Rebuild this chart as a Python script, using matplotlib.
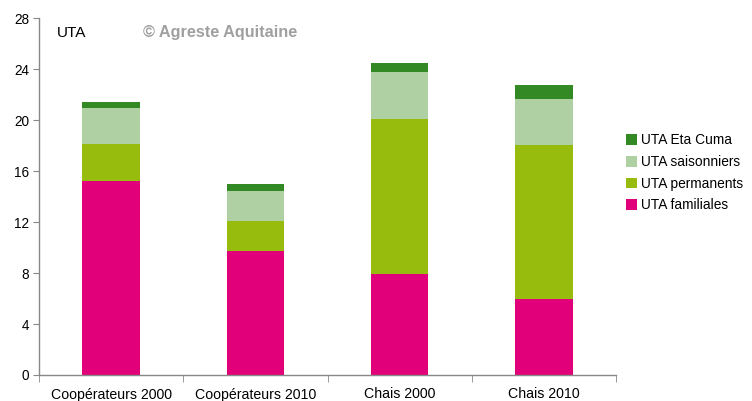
import matplotlib
matplotlib.use("Agg")
import matplotlib.pyplot as plt
from matplotlib.patches import Patch
import numpy as np

plt.rcParams['font.family'] = ['Liberation Sans', 'DejaVu Sans']

categories = ["Coopérateurs 2000", "Coopérateurs 2010", "Chais 2000", "Chais 2010"]
series_names = ["UTA familiales", "UTA permanents", "UTA saisonniers", "UTA Eta Cuma"]
familiales = [15.2, 9.7, 7.9, 6.0]
permanents = [2.9, 2.35, 12.15, 12.05]
saisonniers = [2.85, 2.4, 3.75, 3.6]
eta_cuma = [0.45, 0.5, 0.7, 1.1]
colors = ["#E2007A", "#98BC0E", "#AED0A2", "#338A25"]
yticks = [0, 4, 8, 12, 16, 20, 24, 28]

fig = plt.figure(figsize=(7.52, 4.01), dpi=100)
ax = fig.add_axes([39/752, 1-375/401, (616-39)/752, (375-18)/401])

x = np.arange(len(categories))
bottom = np.zeros(len(categories))
for vals, c in zip([familiales, permanents, saisonniers, eta_cuma], colors):
    ax.bar(x, vals, width=0.4, bottom=bottom, color=c, linewidth=0)
    bottom += np.array(vals)

ax.set_xlim(-0.5, len(categories) - 0.5)
ax.set_ylim(0, 28)
ax.set_yticks(yticks)
ax.set_yticklabels([str(t) for t in yticks], fontsize=9.8)
ax.set_xticks(x)
ax.set_xticklabels(categories, fontsize=10.2)
ax.tick_params(axis='x', length=0, pad=9)
ax.set_xticks(np.arange(len(categories) + 1) - 0.5, minor=True)
ax.tick_params(axis='x', which='minor', length=5, color='#888888', direction='out')
ax.tick_params(axis='y', length=4, color='#888888', direction='out', pad=3)
for s in ['top', 'right']:
    ax.spines[s].set_visible(False)
for s in ['left', 'bottom']:
    ax.spines[s].set_color('#888888')
    ax.spines[s].set_linewidth(1.0)

fig.text(57/752, 1-33/401, "UTA", fontsize=11, va='center', ha='left', color='black')
fig.text(143/752, 1-32/401, "© Agreste Aquitaine", fontsize=11.7, va='center', ha='left',
         color='#A0A0A0', fontweight='bold')

handles = [Patch(facecolor=c, edgecolor='none') for c in colors]
leg = fig.legend(handles[::-1], series_names[::-1], loc='upper left',
                 bbox_to_anchor=(620/752, 1-128/401), frameon=False, fontsize=9.9,
                 handlelength=0.8, handleheight=0.8, handletextpad=0.3, labelspacing=0.55,
                 borderaxespad=0)

fig.savefig("out.png", dpi=100)
